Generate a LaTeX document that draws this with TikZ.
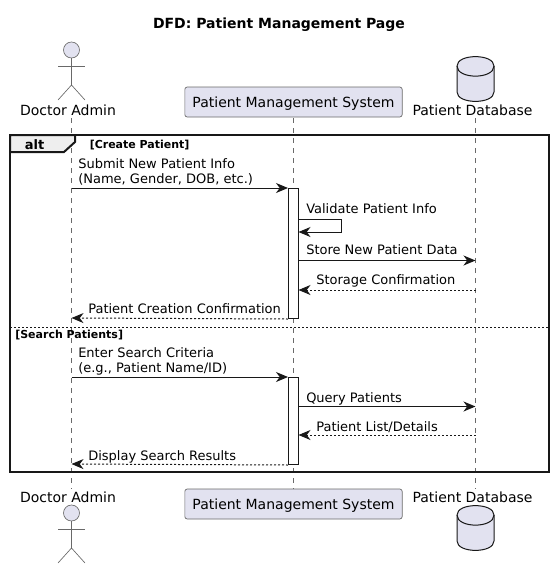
\documentclass[tikz,border=0pt]{standalone}
\usepackage{fontspec}
\setmainfont{DejaVu Sans}
\usetikzlibrary{arrows.meta}
\definecolor{actorFill}{RGB}{226,226,240}
\definecolor{lineColor}{RGB}{24,24,24}
\definecolor{thinColor}{RGB}{105,105,105}
\definecolor{tabFill}{RGB}{238,238,238}
\tikzstyle{sequence} = [x = .75pt, y = -.75pt, every node/.style={inner sep=0pt, text=black}]
\tikzstyle{lifeLine} = [color=thinColor, line width=.45pt, dash pattern=on 3.75pt off 3.75pt]
\tikzstyle{actorLine} = [color=thinColor, line width=.5pt]
\tikzstyle{actorHead} = [circle, draw=thinColor, fill=actorFill, line width=.5pt, minimum size=12pt]
\tikzstyle{participantBox} = [draw=thinColor, fill=actorFill, line width=.5pt, rounded corners=1.8pt, minimum width=163pt, minimum height=22.5pt, text height=10pt, text depth=2pt, font=\fontsize{10.5}{12}\selectfont]
\tikzstyle{actorText} = [font=\fontsize{10.5}{12}\selectfont]
\tikzstyle{messageText} = [font=\fontsize{9.75}{11}\selectfont, anchor=base west, align=left]
\tikzstyle{guardText} = [font=\fontsize{8.25}{10}\selectfont\bfseries, anchor=base west]
\tikzstyle{activationBar} = [draw=lineColor, fill=white, line width=.75pt, minimum width=7.5pt, anchor=north]
\tikzstyle{solidMessage} = [color=lineColor, line width=.75pt, -{Stealth[length=9pt, width=7.5pt, inset=2.8pt]}]
\tikzstyle{dashedMessage} = [solidMessage, dash pattern=on 1.5pt off 1.5pt]
\tikzstyle{frameLine} = [color=lineColor, line width=1.5pt]
\newcommand{\actorFigure}[2]{
  \node [actorHead] (#1) at (71.5,#2) {};
  \coordinate (#1Hip) at (71.5,#2 + 35);
  \draw [actorLine] (#1.south) -- (#1Hip);
  \draw [actorLine] (58,#2 + 16) -- (85,#2 + 16);
  \draw [actorLine] (58,#2 + 50) -- (#1Hip) -- (85,#2 + 50);
}
\newcommand{\databaseFigure}[1]{
  \filldraw [color=lineColor, fill=actorFill, line width=.75pt] (457,#1 + 10) .. controls (457,#1 - 2.5) and (494,#1 - 2.5) .. (494,#1 + 10) -- (494,#1 + 36) .. controls (494,#1 + 48.5) and (457,#1 + 48.5) .. (457,#1 + 36) -- cycle;
  \draw [color=lineColor, line width=.75pt] (457,#1 + 10) .. controls (457,#1 + 23.5) and (494,#1 + 23.5) .. (494,#1 + 10);
}
\begin{document}
\begin{tikzpicture}[sequence]
  \useasboundingbox (0,0) rectangle (554,569);
  \node [font=\fontsize{10.5}{12}\selectfont\bfseries] (title) at (279,25) {DFD: Patient Management Page};

  % lifelines first, everything else sits on them
  \coordinate (doctorTop) at (71.5,118);
  \coordinate (doctorBottom) at (71.5,489);
  \coordinate (systemTop) at (293.5,118);
  \coordinate (systemBottom) at (293.5,489);
  \coordinate (databaseTop) at (475.5,118);
  \coordinate (databaseBottom) at (475.5,489);
  \draw [lifeLine] (doctorTop) -- (doctorBottom);
  \draw [lifeLine] (systemTop) -- (systemBottom);
  \draw [lifeLine] (databaseTop) -- (databaseBottom);

  % head and foot
  \actorFigure{doctorHead}{50}
  \node [actorText] (doctorLabel) at (68,110) {Doctor Admin};
  \node [participantBox] (systemHead) at (293.5,102) {Patient Management System};
  \databaseFigure{56}
  \node [actorText] (databaseLabel) at (472.5,110) {Patient Database};

  \node [actorText] (doctorFootLabel) at (68,497) {Doctor Admin};
  \actorFigure{doctorFoot}{513}
  \node [participantBox] (systemFoot) at (293.5,504) {Patient Management System};
  \node [actorText] (databaseFootLabel) at (472.5,497) {Patient Database};
  \databaseFigure{505}

  % alt frame
  \draw [frameLine] (10,135) rectangle (549,472);
  \filldraw [frameLine, fill=tabFill] (10,135) -- (75,135) -- (75,142) -- (64,152) -- (10,152) -- cycle;
  \node [font=\fontsize{9.75}{11}\selectfont\bfseries] (altLabel) at (34.5,145) {alt};
  \node [guardText] (createGuard) at (89.5,148) {[Create Patient]};
  \draw [color=lineColor, line width=.75pt, dash pattern=on 1.5pt off 1.5pt] (10,327) -- (549,327);
  \node [guardText] (searchGuard) at (15,338) {[Search Patients]};

  % activations
  \node [activationBar, minimum height=97.5pt] (createBar) at (293.5,188) {};
  \node [activationBar, minimum height=65.25pt] (searchBar) at (293.5,377) {};

  % rows of the first fragment
  \coordinate (doctorSubmit) at (71.5,188);
  \draw [solidMessage] (doctorSubmit) -- (createBar.north west);
  \node [messageText] (submitLabel) at (78,183) {Submit New Patient Info\\(Name, Gender, DOB, etc.)};

  \coordinate (validateOut) at (298.5,219);
  \coordinate (validateBack) at (298.5,232);
  \draw [solidMessage] (validateOut) -- (341,219) -- (341,232) -- (validateBack);
  \node [messageText] (validateLabel) at (306,213) {Validate Patient Info};

  \coordinate (storeOut) at (298.5,260.5);
  \coordinate (storeIn) at (475.5,260.5);
  \draw [solidMessage] (storeOut) -- (storeIn);
  \node [messageText] (storeLabel) at (306,254.5) {Store New Patient Data};

  \coordinate (confirmIn) at (298.5,290);
  \coordinate (confirmOut) at (475.5,290);
  \draw [dashedMessage] (confirmOut) -- (confirmIn);
  \node [messageText] (confirmLabel) at (316,284) {Storage Confirmation};

  \coordinate (doctorCreated) at (71.5,318);
  \draw [dashedMessage] (createBar.south west) -- (doctorCreated);
  \node [messageText] (createdLabel) at (88,313) {Patient Creation Confirmation};

  % rows of the second fragment
  \coordinate (doctorSearch) at (71.5,377);
  \draw [solidMessage] (doctorSearch) -- (searchBar.north west);
  \node [messageText] (searchLabel) at (78,372.5) {Enter Search Criteria\\(e.g., Patient Name/ID)};

  \coordinate (queryOut) at (298.5,406.5);
  \coordinate (queryIn) at (475.5,406.5);
  \draw [solidMessage] (queryOut) -- (queryIn);
  \node [messageText] (queryLabel) at (306,402) {Query Patients};

  \coordinate (listIn) at (298.5,435);
  \coordinate (listOut) at (475.5,435);
  \draw [dashedMessage] (listOut) -- (listIn);
  \node [messageText] (listLabel) at (316,431) {Patient List/Details};

  \coordinate (doctorResults) at (71.5,464);
  \draw [dashedMessage] (searchBar.south west) -- (doctorResults);
  \node [messageText] (resultsLabel) at (88,460) {Display Search Results};
\end{tikzpicture}
\end{document}
